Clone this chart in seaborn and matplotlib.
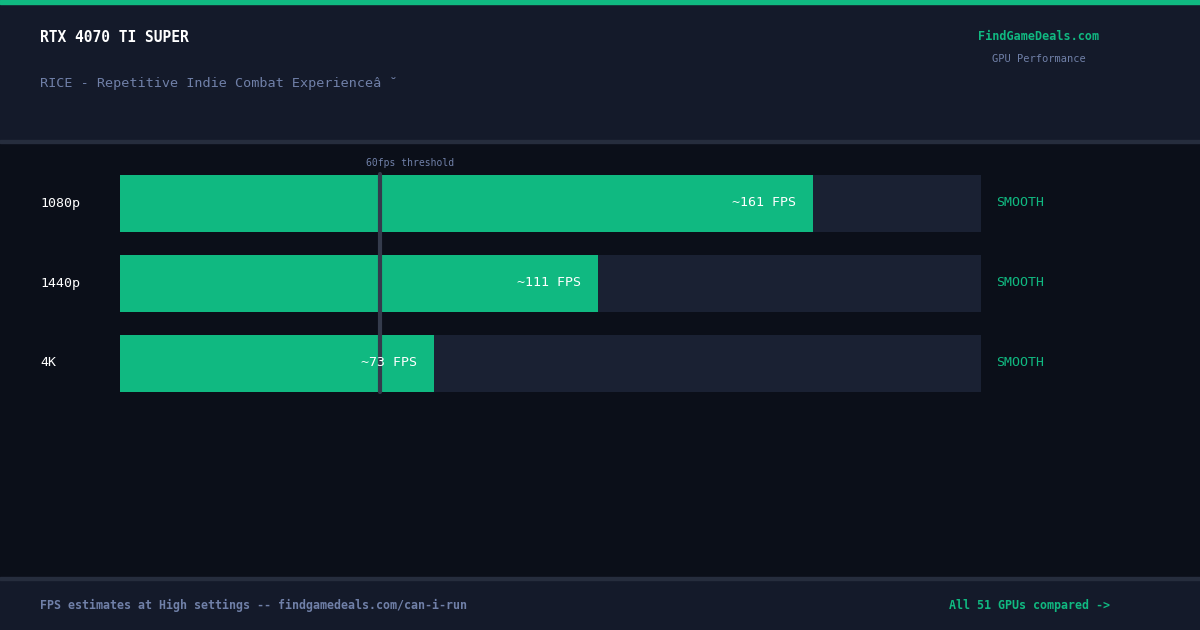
import matplotlib
matplotlib.use("Agg")
import matplotlib.pyplot as plt
import seaborn as sns
import pandas as pd

resolutions = ["1080p", "1440p", "4K"]
fps = [161, 111, 73]
status = ["SMOOTH", "SMOOTH", "SMOOTH"]
max_fps = 200
threshold = 60

sns.set_theme(style="white")
plt.rcParams['font.family'] = ['DejaVu Sans Mono']

GREEN = "#10b981"
BG = "#0b0f19"
PANEL = "#141a2a"
TRACK = "#1a2133"
MUTED = "#7080a8"

fig = plt.figure(figsize=(12, 6.3), dpi=100, facecolor=BG)
fig.patches.append(plt.Rectangle((0, 1 - 141/630), 1, 141/630, transform=fig.transFigure, color=PANEL, zorder=0))
fig.patches.append(plt.Rectangle((0, 1 - 4/630), 1, 4/630, transform=fig.transFigure, color=GREEN, zorder=1))
fig.patches.append(plt.Rectangle((0, 1 - 143/630), 1, 3/630, transform=fig.transFigure, color="#262d3d", zorder=1))
fig.patches.append(plt.Rectangle((0, 0), 1, 52/630, transform=fig.transFigure, color=PANEL, zorder=0))
fig.patches.append(plt.Rectangle((0, 50/630), 1, 3/630, transform=fig.transFigure, color="#262d3d", zorder=1))

ax = fig.add_axes([120/1200, 1 - 403/630, 861/1200, 240/630])
ax.set_facecolor("none")
df = pd.DataFrame({"res": resolutions, "fps": fps, "track": [max_fps]*len(fps)})
sns.barplot(data=df, y="res", x="track", color=TRACK, width=0.7125, ax=ax, saturation=1, orient="h", linewidth=0)
sns.barplot(data=df, y="res", x="fps", color=GREEN, width=0.7125, ax=ax, saturation=1, orient="h", linewidth=0)
ax.set_xlim(0, max_fps)
ax.set_ylim(2.5, -0.5)
ax.axis("off")
ax.plot([threshold + 0.4, threshold + 0.4], [-0.36, 2.36], color="#343b4c", lw=3, zorder=5)
ax.text(threshold - 12/861*max_fps, -0.44, "60fps threshold", color=MUTED, fontsize=7, ha="left", va="bottom")
off = matplotlib.transforms.ScaledTranslation(-17/100, 0, fig.dpi_scale_trans)
for i, (r, v, s) in enumerate(zip(resolutions, fps, status)):
    ax.text(v, i, f"~{v} FPS", color="white", fontsize=9.5, ha="right", va="center",
            transform=ax.transData + off, zorder=6)
    ax.text(-80/861*max_fps, i, r, color="white", fontsize=9.5, ha="left", va="center")
    ax.text(max_fps + 15/861*max_fps, i, s, color=GREEN, fontsize=9.5, ha="left", va="center")

fig.text(40/1200, 1 - 38/630, "RTX 4070 TI SUPER", color="white", fontsize=10.5, fontweight="bold", va="center")
fig.text(40/1200, 1 - 83/630, "RICE - Repetitive Indie Combat Experienceâ ˘", color=MUTED, fontsize=9.7, va="center")
fig.text(1039/1200, 1 - 37/630, "FindGameDeals.com", color=GREEN, fontsize=8.5, fontweight="bold", ha="center", va="center")
fig.text(1039/1200, 1 - 59/630, "GPU Performance", color=MUTED, fontsize=7.5, ha="center", va="center")
fig.text(40/1200, 25/630, "FPS estimates at High settings -- findgamedeals.com/can-i-run", color=MUTED, fontsize=8.4, fontweight="bold", va="center")
fig.text(1110/1200, 25/630, "All 51 GPUs compared ->", color=GREEN, fontsize=8.4, fontweight="bold", ha="right", va="center")

fig.savefig("out.png", dpi=100, facecolor=BG)
